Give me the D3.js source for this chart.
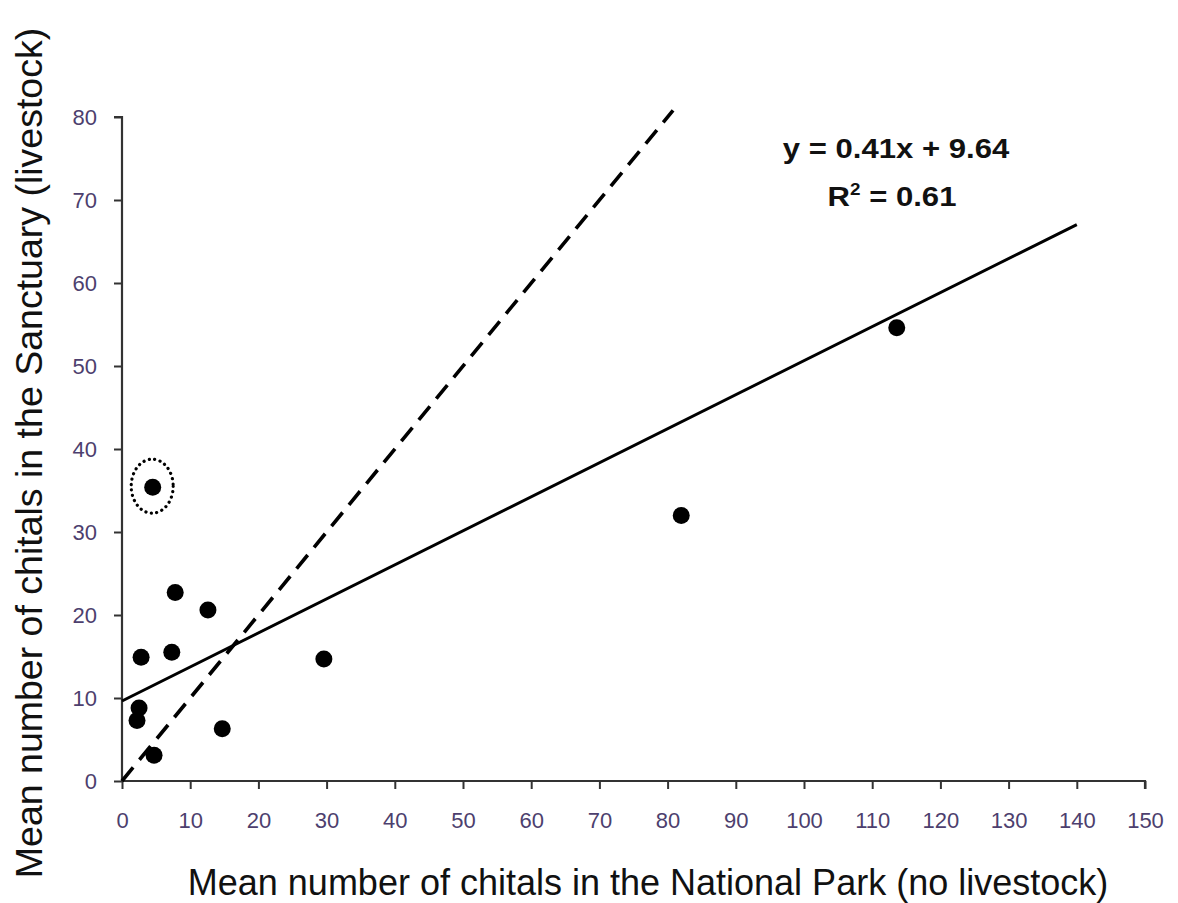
<!DOCTYPE html>
<html><head><meta charset="utf-8">
<script src="https://cdn.jsdelivr.net/npm/d3@7"></script>
<style>
html,body{margin:0;padding:0;background:#fff;}
svg{display:block;}
</style></head>
<body>
<svg id="chart" width="1178" height="903"></svg>
<script>
// Data
const parkCounts = [4.5, 7.8, 12.6, 2.8, 7.3, 29.6, 2.5, 2.2, 14.7, 4.7, 113.6, 82.0];
const sanctuaryCounts = [35.4, 22.7, 20.6, 14.9, 15.5, 14.7, 8.8, 7.3, 6.3, 3.1, 54.6, 32.0];
const xTicks = [0,10,20,30,40,50,60,70,80,90,100,110,120,130,140,150];
const yTicks = [0,10,20,30,40,50,60,70,80];
const fitSlope = 0.41, fitIntercept = 9.64, fitXMax = 140;
const identityMax = 80.8;
const circledIndex = 0;
const equationText = "y = 0.41x + 9.64";
const rSquaredText = "0.61";
const xTitle = "Mean number of chitals in the National Park (no livestock)";
const yTitle = "Mean number of chitals in the Sanctuary (livestock)";

const svg = d3.select("#chart");
const x = d3.scaleLinear().domain([0,150]).range([122,1145]);
const y = d3.scaleLinear().domain([0,80]).range([781,117]);
const tickColor = "#4d3f6e";
const font = "Liberation Sans, Arial, sans-serif";

// Axes
const xAxis = d3.axisBottom(x).tickValues(xTicks).tickSize(8).tickPadding(23).tickSizeOuter(0);
const gx = svg.append("g").attr("transform",`translate(0,${y(0)})`).call(xAxis);
gx.select(".domain").attr("stroke","#333").attr("stroke-width",2.2).attr("d",`M${x(0)-1},0H${x(150)}V8`);
gx.selectAll(".tick line").attr("stroke","#333").attr("stroke-width",2);
gx.selectAll(".tick text").attr("fill",tickColor).style("font-family",font).style("font-size","22px");

const yAxis = d3.axisLeft(y).tickValues(yTicks).tickSize(8).tickPadding(17).tickSizeOuter(0);
const gy = svg.append("g").attr("transform",`translate(${x(0)},0)`).call(yAxis);
gy.select(".domain").attr("stroke","#333").attr("stroke-width",2.2).attr("d",`M-8,${y(80)}H0V${y(0)+1}`);
gy.selectAll(".tick line").attr("stroke","#333").attr("stroke-width",2);
gy.selectAll(".tick text").attr("fill",tickColor).style("font-family",font).style("font-size","22px");

// Identity (1:1) dashed line
svg.append("line")
  .attr("x1",x(0)).attr("y1",y(0)).attr("x2",x(identityMax)).attr("y2",y(identityMax))
  .attr("stroke","#000").attr("stroke-width",3.6).attr("stroke-dasharray","17.5,10");

// Regression line
svg.append("line")
  .attr("x1",x(0)).attr("y1",y(fitIntercept)).attr("x2",x(fitXMax)).attr("y2",y(fitSlope*fitXMax+fitIntercept))
  .attr("stroke","#000").attr("stroke-width",3);

// Points
const pts = parkCounts.map((v,i)=>({x:v,y:sanctuaryCounts[i]}));
svg.append("g").selectAll("circle").data(pts).join("circle")
  .attr("cx",d=>x(d.x)).attr("cy",d=>y(d.y)).attr("r",8.5).attr("fill","#000");

// Dotted ellipse around outlier
const c = pts[circledIndex];
svg.append("ellipse").attr("cx",x(c.x)-0.5).attr("cy",y(c.y)-1).attr("rx",21).attr("ry",27)
  .attr("fill","none").attr("stroke","#000").attr("stroke-width",3.2)
  .attr("stroke-dasharray","0.1,5.4").attr("stroke-linecap","round");

// Equation text
const eq = svg.append("g").style("font-family",font).style("font-weight","bold").style("font-size","28px").attr("fill","#111");
eq.append("text").attr("transform","translate(896,158) scale(1.11,1)").attr("text-anchor","middle").text(equationText);
const r2 = eq.append("text").attr("transform","translate(892,206) scale(1.11,1)").attr("text-anchor","middle");
r2.append("tspan").text("R");
r2.append("tspan").attr("dy",-11).style("font-size","17px").text("2");
r2.append("tspan").attr("dy",11).text(" = " + rSquaredText);

// Axis titles
svg.append("text").attr("x",648).attr("y",895).attr("text-anchor","middle")
  .style("font-family",font).style("font-size","36px").attr("fill","#111").text(xTitle);
svg.append("text").attr("transform","translate(42,453) rotate(-90)").attr("text-anchor","middle")
  .style("font-family",font).style("font-size","37.5px").attr("fill","#111").text(yTitle);
</script>
</body></html>
